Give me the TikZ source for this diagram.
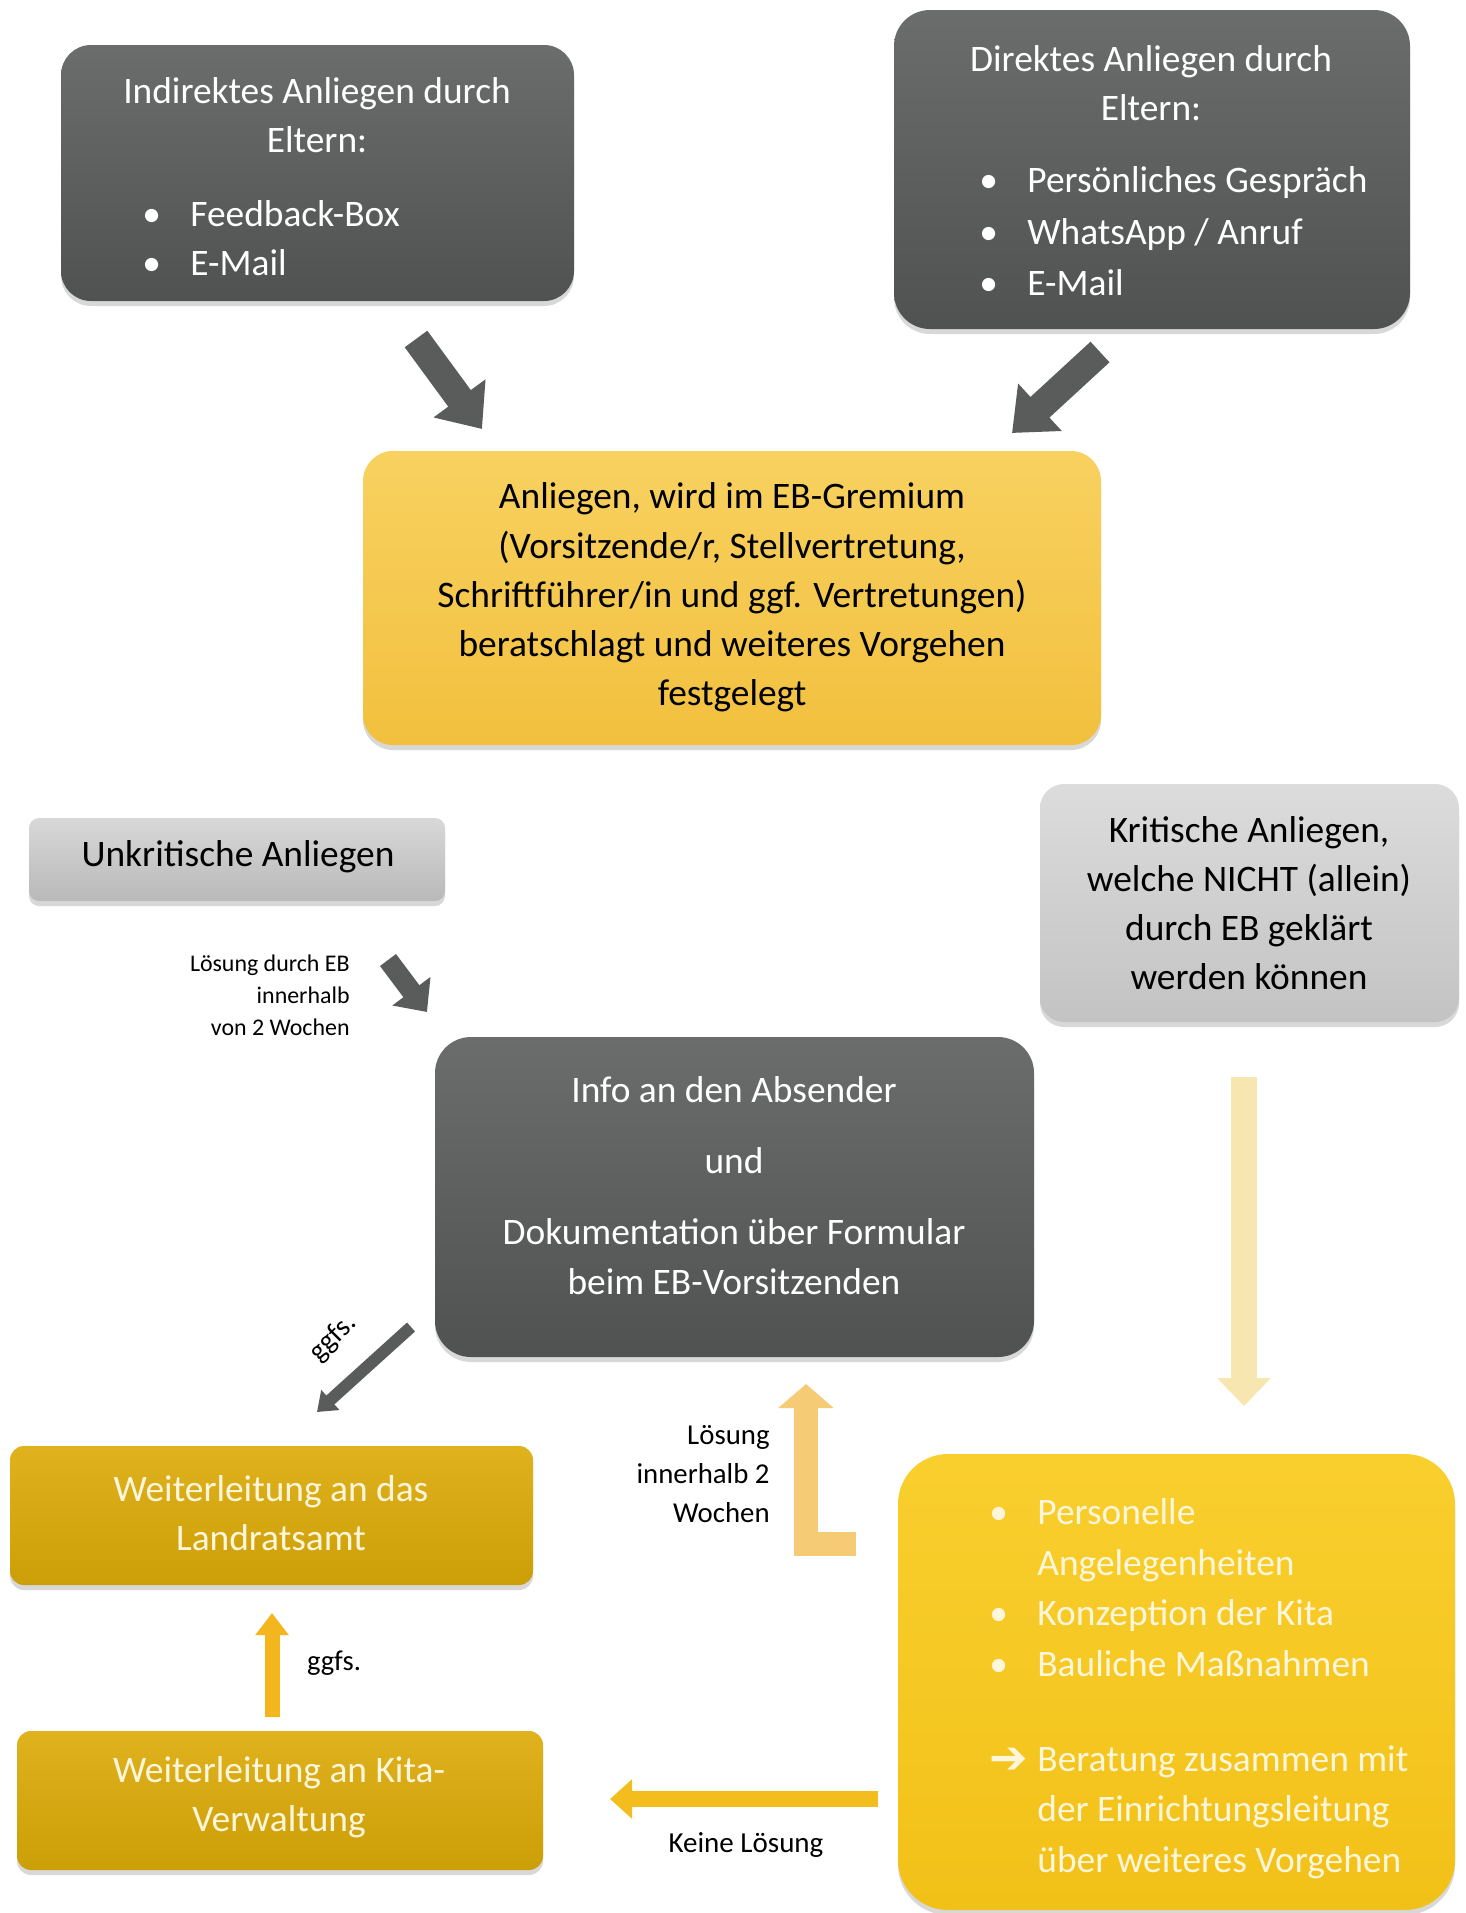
\documentclass[tikz,border=0pt]{standalone}
\usepackage{fontspec}
\setmainfont{Carlito}
\newfontfamily\symfont{DejaVu Sans}
\usetikzlibrary{arrows.meta,shadows}
\definecolor{dkA}{HTML}{6B6D6C}
\definecolor{dkB}{HTML}{505251}
\definecolor{ylA}{HTML}{F8D160}
\definecolor{ylB}{HTML}{F2C03E}
\definecolor{grA}{HTML}{D8D8D8}
\definecolor{grB}{HTML}{B9B9B9}
\definecolor{krA}{HTML}{DCDCDC}
\definecolor{krB}{HTML}{C3C3C3}
\definecolor{goA}{HTML}{DFB21E}
\definecolor{goB}{HTML}{CC9F08}
\definecolor{bgA}{HTML}{F9CF2E}
\definecolor{bgB}{HTML}{F2C118}
\definecolor{arDk}{HTML}{5A5C5B}
\definecolor{arUp}{HTML}{F3B61C}
\definecolor{arKe}{HTML}{F4BD1E}
\definecolor{arL}{HTML}{F6CB75}
\definecolor{arDn}{HTML}{F7E6B0}
\definecolor{wtxt}{HTML}{FFF6DC}
\newcommand{\bigtxt}{\fontsize{18.7}{24.6}\selectfont}
\newcommand{\bul}{\makebox[24pt][l]{•}}
\newcommand{\nobul}{\hspace*{24pt}}
\begin{document}
\begin{tikzpicture}[x=0.5pt,y=-0.5pt,
  box/.style={rounded corners=#1, inner sep=0pt,
    drop shadow={shadow xshift=0pt, shadow yshift=-2.5pt, opacity=0.3}},
  darkbox/.style={box=#1, top color=dkA, bottom color=dkB},
  ylwbox/.style={box=#1, top color=ylA, bottom color=ylB},
  graybox/.style={box=#1, top color=grA, bottom color=grB},
  kritbox/.style={box=#1, top color=krA, bottom color=krB},
  goldbox/.style={box=#1, top color=goA, bottom color=goB},
  bigbox/.style={box=#1, top color=bgA, bottom color=bgB},
  btxt/.style={font=\bigtxt, inner sep=0pt},
  darrow/.style={draw=arDk, line width=#1},
  lbl/.style={inner sep=0pt, align=right}
]
\useasboundingbox (0,0) rectangle (1466,1913);
\fill[white] (0,0) rectangle (1466,1913);
\clip (0,0) rectangle (1466,1913);

% boxes
\node[darkbox=15pt, minimum width=256.5pt, minimum height=128pt] (ind) at (317.5,173) {};
\node[darkbox=18pt, minimum width=258pt, minimum height=159.5pt] (dir) at (1152,169.5) {};
\node[ylwbox=15pt, minimum width=369pt, minimum height=147pt] (grem) at (732,598) {};
\node[graybox=5pt, minimum width=208pt, minimum height=41.5pt] (unk) at (237,859.5) {};
\node[kritbox=12pt, minimum width=209.5pt, minimum height=119pt] (krit) at (1249.5,903) {};
\node[darkbox=18pt, minimum width=299.5pt, minimum height=160pt] (info) at (734.5,1197) {};
\node[goldbox=7pt, minimum width=261.5pt, minimum height=69.5pt] (lra) at (271.5,1515.5) {};
\node[goldbox=7pt, minimum width=263pt, minimum height=69.5pt] (kita) at (280,1800.5) {};
\node[bigbox=25pt, minimum width=278.5pt, minimum height=228pt] (big) at (1176.5,1682) {};

% texts
\node[btxt, text=white, align=center] (indT) at (317,115.5) {Indirektes Anliegen durch\\Eltern:};
\node[btxt, text=white, align=left, anchor=west] (indL) at (142,238) {\bul Feedback-Box\\\bul E-Mail};
\node[btxt, text=white, align=center] (dirT) at (1151,83) {Direktes Anliegen durch\\Eltern:};
\node[btxt, text=white, align=left, anchor=west, font=\fontsize{18.7}{25.7}\selectfont] (dirL) at (979,231.5) {\bul Persönliches Gespräch\\\bul WhatsApp / Anruf\\\bul E-Mail};
\node[btxt, align=center] (gremT) at (732,597.5) {Anliegen, wird im EB-Gremium\\(Vorsitzende/r, Stellvertretung,\\Schriftführer/in und ggf. Vertretungen)\\beratschlagt und weiteres Vorgehen\\festgelegt};
\node[btxt] (unkT) at (238,857) {Unkritische Anliegen};
\node[btxt, align=center] (kritT) at (1249,903) {Kritische Anliegen,\\welche NICHT (allein)\\durch EB geklärt\\werden können};
\node[btxt, text=white, align=center] (infoT) at (734,1185.5) {Info an den Absender\\[11pt]und\\[11pt]Dokumentation über Formular\\beim EB-Vorsitzenden};
\node[btxt, text=wtxt, align=center] (lraT) at (271,1513) {Weiterleitung an das\\Landratsamt};
\node[btxt, text=wtxt, align=center] (kitaT) at (279,1797) {Weiterleitung an Kita-\\Verwaltung};
\node[btxt, text=wtxt, align=left, anchor=west, font=\fontsize{18.7}{25.3}\selectfont] (bigL) at (989,1587.5) {\bul Personelle\\\nobul Angelegenheiten\\\bul Konzeption der Kita\\\bul Bauliche Maßnahmen};
\node[btxt, text=wtxt, align=left, anchor=west, font=\fontsize{18.7}{25.3}\selectfont] (bigR) at (989,1812) {\makebox[24pt][l]{\symfont\bfseries\fontsize{23}{19}\selectfont\raisebox{-1pt}{➔}}Beratung zusammen mit\\\nobul der Einrichtungsleitung\\\nobul über weiteres Vorgehen};

% labels
\node[lbl, anchor=east, font=\fontsize{11.95}{16}\selectfont] (l1) at (350,995) {Lösung durch EB\\innerhalb\\von 2 Wochen};
\node[lbl, anchor=east, font=\fontsize{14.4}{19.5}\selectfont] (l2) at (770,1474) {Lösung\\innerhalb 2\\Wochen};
\node[inner sep=0pt, font=\fontsize{14.5}{16}\selectfont] (l3) at (746,1845) {Keine Lösung};
\node[inner sep=0pt, font=\fontsize{14.3}{16}\selectfont] (l4) at (334,1663) {ggfs.};
\node[inner sep=0pt, font=\fontsize{14.3}{16}\selectfont, rotate=45] (l5) at (333,1338) {ggfs.};

% arrow coordinates
\coordinate (a1s) at (416,339);   \coordinate (a1e) at (482,429);
\coordinate (a2s) at (1100,352);  \coordinate (a2e) at (1012,433);
\coordinate (a3s) at (388,960);   \coordinate (a3e) at (427,1012);
\coordinate (a4s) at (411,1327);  \coordinate (a4e) at (317,1412);
\coordinate (a5s) at (272,1717);  \coordinate (a5e) at (272,1613);
\coordinate (a6s) at (878,1799);  \coordinate (a6e) at (610,1799);
\coordinate (a7s) at (856,1544);  \coordinate (a7m) at (806,1544); \coordinate (a7e) at (806,1384);
\coordinate (a8s) at (1244,1077); \coordinate (a8e) at (1244,1406);

% arrows
\draw[darrow=14pt, -{Triangle[length=19pt,width=31pt]}] (a1s) -- (a1e);
\draw[darrow=14pt, -{Triangle[length=19pt,width=31pt]}] (a2s) -- (a2e);
\draw[darrow=10pt, -{Triangle[length=13pt,width=23pt]}] (a3s) -- (a3e);
\draw[darrow=6pt, -{Triangle[length=9pt,width=13pt]}] (a4s) -- (a4e);
\draw[draw=arUp, line width=7.5pt, -{Triangle[length=11pt,width=16pt]}] (a5s) -- (a5e);
\draw[draw=arKe, line width=8pt, -{Triangle[length=11pt,width=19pt]}] (a6s) -- (a6e);
\draw[draw=arL, line width=12pt, line join=miter, -{Triangle[length=12pt,width=27pt]}] (a7s) -- (a7m) -- (a7e);
\draw[draw=arDn, line width=13pt, -{Triangle[length=14pt,width=26pt]}] (a8s) -- (a8e);
\end{tikzpicture}
\end{document}
